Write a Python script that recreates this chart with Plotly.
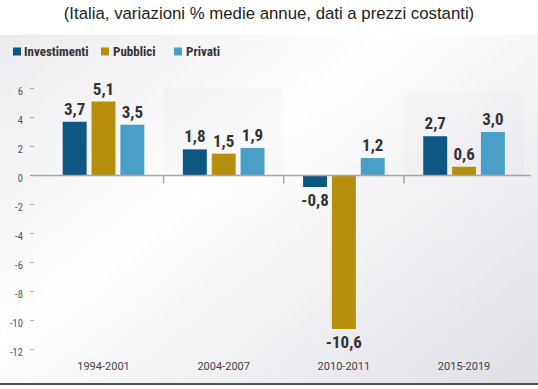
import base64
import struct
import zlib

import plotly.graph_objects as go

# ---------------- data ----------------
categories = ["1994-2001", "2004-2007", "2010-2011", "2015-2019"]
series_names = ["Investimenti", "Pubblici", "Privati"]
investimenti = [3.7, 1.8, -0.8, 2.7]
pubblici = [5.1, 1.5, -10.6, 0.6]
privati = [3.5, 1.9, 1.2, 3.0]
y_tick_values = [-12, -10, -8, -6, -4, -2, 0, 2, 4, 6]
title_text = "(Italia, variazioni % medie annue, dati a prezzi costanti)"

# ---------------- style ----------------
W, H = 538, 389
ML, MR, MT, MB = 35, 7, 74, 31
PW, PH = W - ML - MR, H - MT - MB
colors = ["#0e5783", "#b68f0e", "#4a9fc8"]
narrow = "Liberation Sans Narrow, Roboto Condensed, Arial Narrow, Roboto, sans-serif"
label_color = "#333333"


def px_x(px):
    return (px - ML) / PW


def px_y(py):
    return 1 - (py - MT) / PH


def fmt(v):
    return f"{v:.1f}".replace(".", ",")


# background gradient as a tiny PNG
def make_png(w, h, fn):
    rows = []
    for j in range(h):
        row = bytearray([0])
        for i in range(w):
            row.extend(fn(i / (w - 1), j / (h - 1)))
        rows.append(bytes(row))
    raw = b"".join(rows)

    def chunk(tag, data):
        return (struct.pack(">I", len(data)) + tag + data
                + struct.pack(">I", zlib.crc32(tag + data) & 0xFFFFFFFF))

    png = (b"\x89PNG\r\n\x1a\n"
           + chunk(b"IHDR", struct.pack(">IIBBBBB", w, h, 8, 2, 0, 0, 0))
           + chunk(b"IDAT", zlib.compress(raw))
           + chunk(b"IEND", b""))
    return "data:image/png;base64," + base64.b64encode(png).decode()


def grad(u, v):
    t = 0.55 * u + 0.45 * v
    c0, c1, c2 = (236, 236, 240), (255, 255, 255), (223, 223, 230)
    if t < 0.4:
        a = t / 0.4
        c = [c0[k] + (c1[k] - c0[k]) * a for k in range(3)]
    else:
        a = (t - 0.4) / 0.6
        c = [c1[k] + (c2[k] - c1[k]) * a for k in range(3)]
    return [int(round(x)) for x in c]


bg_uri = make_png(64, 42, grad)

fig = go.Figure()
for name, vals, col in zip(series_names, [investimenti, pubblici, privati], colors):
    fig.add_trace(go.Bar(
        x=categories, y=vals, name=name,
        marker=dict(color=col, line=dict(width=0)),
        text=[fmt(v) for v in vals], textposition="outside", constraintext="none",
        textfont=dict(family=narrow, size=17, color=label_color, weight="bold"),
        cliponaxis=False, showlegend=False, hoverinfo="x+y+name",
    ))

shapes = []
# light panels behind groups 2 and 4
shapes.append(dict(type="rect", xref="x", yref="y", x0=0.5, x1=1.5, y0=0, y1=6.0,
                   fillcolor="rgba(90,90,130,0.025)", line=dict(width=0), layer="below"))
shapes.append(dict(type="rect", xref="x", yref="y", x0=2.5, x1=3.5, y0=0, y1=5.65,
                   fillcolor="rgba(90,90,130,0.025)", line=dict(width=0), layer="below"))
# zero line
shapes.append(dict(type="line", xref="paper", yref="y", x0=px_x(30), x1=1.0, y0=0, y1=0,
                   line=dict(color="#a6a6a6", width=1.5), layer="above"))
# group separators
for xv in [0.5, 1.5, 2.5]:
    shapes.append(dict(type="line", xref="x", yref="y", x0=xv, x1=xv, y0=0, y1=-0.55,
                       line=dict(color="#a6a6a6", width=1.5)))
# bottom rule
shapes.append(dict(type="line", xref="paper", yref="paper", x0=px_x(0), x1=px_x(W),
                   y0=px_y(384), y1=px_y(384), line=dict(color="#505050", width=2)))

# manual legend
legend_pos = [(13, 22), (101, 111), (174, 184)]
annotations = []
for (sx, tx), name, col in zip(legend_pos, series_names, colors):
    shapes.append(dict(type="rect", xref="paper", yref="paper",
                       x0=px_x(sx), x1=px_x(sx + 8), y0=px_y(47.5), y1=px_y(55.5),
                       fillcolor=col, line=dict(width=0)))
    annotations.append(dict(xref="paper", yref="paper", x=px_x(tx), y=px_y(51.5),
                            xanchor="left", yanchor="middle", showarrow=False, text=name,
                            font=dict(family=narrow, size=13, color="#333333", weight="bold")))

fig.update_layout(
    width=W, height=H, autosize=False,
    margin=dict(l=ML, r=MR, t=MT, b=MB),
    paper_bgcolor="white", plot_bgcolor="rgba(0,0,0,0)",
    barmode="group", bargap=0.28, bargroupgap=0.17,
    title=dict(text=title_text, x=0.5, xref="container", xanchor="center",
               y=1 - 13 / H, yref="container", yanchor="middle",
               font=dict(family="Liberation Sans, Arial, sans-serif", size=16.8, color="#222222")),
    shapes=shapes, annotations=annotations,
    images=[dict(source=bg_uri, xref="paper", yref="paper", x=px_x(0), y=px_y(35),
                 sizex=W / PW, sizey=(384 - 35) / PH, xanchor="left", yanchor="top",
                 sizing="stretch", layer="below")],
    xaxis=dict(type="category", range=[-0.57, 3.557], showgrid=False, zeroline=False,
               showline=False, ticks="",
               tickfont=dict(family="Roboto, sans-serif", size=11, color="#444444")),
    yaxis=dict(range=[-12.6, 7.0], tickvals=y_tick_values,
               ticktext=[str(v) for v in y_tick_values],
               showgrid=False, zeroline=False, showline=False,
               ticks="outside", ticklen=4, tickwidth=1, tickcolor="#b0b0b0",
               ticklabelstandoff=5, ticklabelshift=3,
               tickfont=dict(family="Roboto Condensed, Roboto, sans-serif", size=10.5, color="#555555")),
    showlegend=False,
)

fig.write_html("out.html", config={"displayModeBar": False},
               post_script="document.body.style.margin='0px';")
